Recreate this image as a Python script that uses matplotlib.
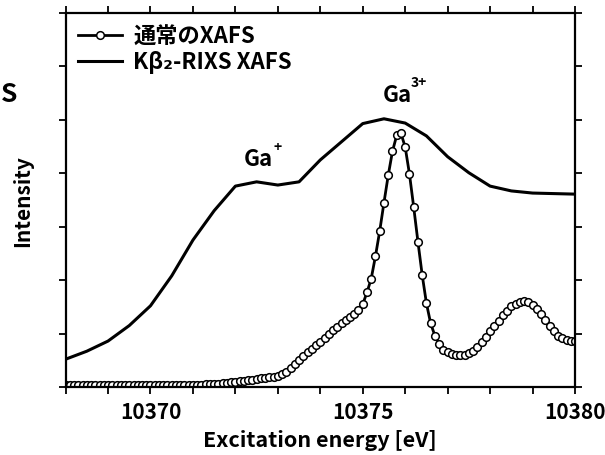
import numpy as np
import matplotlib
matplotlib.use("Agg")
import matplotlib.pyplot as plt
from matplotlib.ticker import MultipleLocator, NullFormatter

plt.rcParams['font.family'] = ['Noto Sans CJK JP', 'DejaVu Sans']
plt.rcParams['font.weight'] = 'bold'
plt.rcParams['axes.labelweight'] = 'bold'

# Kb2-RIXS XAFS (solid line), every 0.5 eV
rixs_e = [10368.0, 10368.5, 10369.0, 10369.5, 10370.0, 10370.5, 10371.0, 10371.5,
          10372.0, 10372.5, 10373.0, 10373.5, 10374.0, 10374.5, 10375.0, 10375.5,
          10376.0, 10376.5, 10377.0, 10377.5, 10378.0, 10378.5, 10379.0, 10379.5,
          10380.0]
rixs_i = [0.52, 0.67, 0.86, 1.15, 1.52, 2.08, 2.75, 3.30,
          3.76, 3.84, 3.78, 3.84, 4.25, 4.59, 4.93, 5.02,
          4.94, 4.70, 4.31, 4.01, 3.76, 3.67, 3.63, 3.62,
          3.61]

# normal XAFS (circles), 10368.0 ... 10380.0 eV, step 0.1 eV
xafs_i = [0.03, 0.03, 0.03, 0.03, 0.03, 0.03, 0.03, 0.03, 0.03, 0.03,
          0.03, 0.03, 0.03, 0.03, 0.03, 0.03, 0.03, 0.03, 0.03, 0.03,
          0.03, 0.03, 0.03, 0.03, 0.03, 0.03, 0.03, 0.03, 0.03, 0.03,
          0.035, 0.04, 0.045, 0.05, 0.055, 0.06, 0.065, 0.07, 0.08, 0.09,
          0.10, 0.11, 0.12, 0.13, 0.14, 0.15, 0.16, 0.17, 0.18, 0.19,
          0.21, 0.24, 0.29, 0.35, 0.43, 0.50, 0.58, 0.65, 0.72, 0.78,
          0.85, 0.92, 0.99, 1.06, 1.13, 1.20, 1.26, 1.31, 1.37, 1.44,
          1.55, 1.77, 2.03, 2.45, 2.92, 3.45, 3.96, 4.41, 4.71, 4.75,
          4.49, 3.99, 3.37, 2.72, 2.10, 1.57, 1.19, 0.96, 0.81, 0.70,
          0.66, 0.62, 0.60, 0.59, 0.60, 0.63, 0.68, 0.75, 0.84, 0.94,
          1.04, 1.14, 1.24, 1.34, 1.43, 1.51, 1.56, 1.60, 1.61, 1.59,
          1.54, 1.46, 1.36, 1.25, 1.14, 1.04, 0.96, 0.91, 0.88, 0.87,
          0.87]
xafs_e = np.linspace(10368.0, 10380.0, len(xafs_i))

x_major = [10370, 10375, 10380]
x_labels = ['10370', '10375', '10380']

fig = plt.figure(figsize=(6.05, 4.56), dpi=100)
ax = fig.add_axes([0.1084, 0.1491, 0.842, 0.8202])

ax.plot(xafs_e, xafs_i, '-o', color='black', lw=2, ms=5.5, mfc='white',
        mec='black', mew=1.1, label='通常のXAFS')
ax.plot(rixs_e, rixs_i, '-', color='black', lw=2.2, label='Kβ₂-RIXS XAFS')

ax.set_xlim(10368, 10380)
ax.set_ylim(0, 7)
ax.set_xticks(x_major, x_labels, fontweight='bold', fontsize=15)
ax.xaxis.set_minor_locator(MultipleLocator(1))
ax.yaxis.set_major_locator(MultipleLocator(1))
ax.yaxis.set_major_formatter(NullFormatter())
ax.tick_params(which='both', direction='out', top=True, right=True,
               length=5, width=1.3)
ax.tick_params(axis='x', pad=5)
for s in ax.spines.values():
    s.set_linewidth(1.6)

ax.set_xlabel('Excitation energy [eV]', fontsize=15.5, labelpad=5)
ax.set_ylabel('Intensity', fontsize=15, labelpad=15)

ax.text(10372.55, 4.27, 'Ga', fontsize=16, ha='center', va='center')
ax.text(10373.0, 4.5, '+', fontsize=10, ha='center', va='center')
ax.text(10375.82, 5.47, 'Ga', fontsize=16, ha='center', va='center')
ax.text(10376.32, 5.7, '3+', fontsize=10, ha='center', va='center')

fig.text(1 / 605, 1 - 95 / 456, 'S', fontsize=19, ha='left', va='center')

ax.legend(loc='upper left', frameon=False, fontsize=16, handlelength=2.0,
          handletextpad=0.5, borderaxespad=0.1, labelspacing=0.1,
          borderpad=0.45)

fig.savefig('out.png', dpi=100)
